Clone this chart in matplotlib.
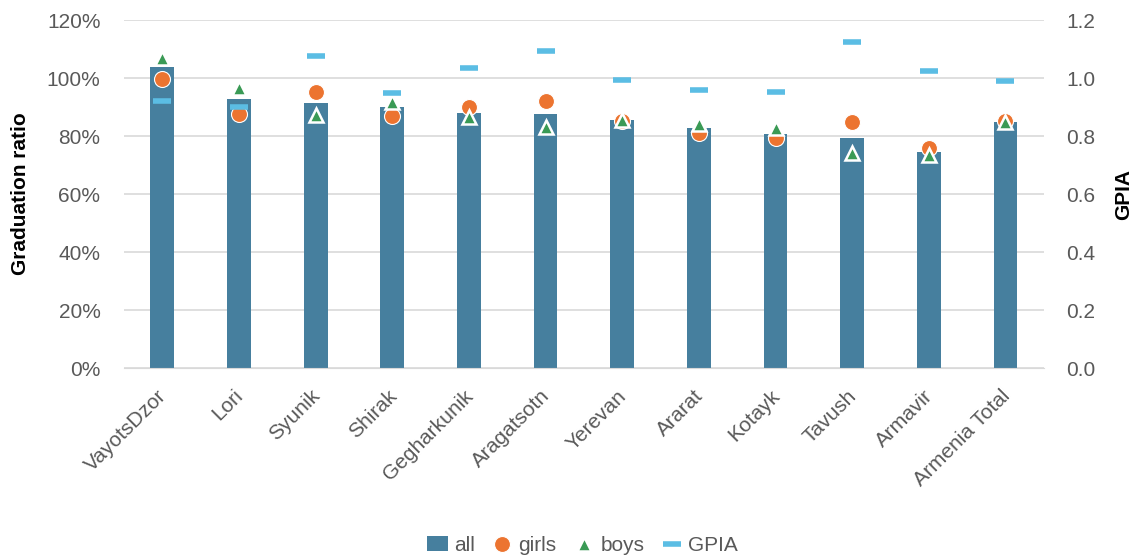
import numpy as np
import matplotlib.pyplot as plt
from matplotlib.ticker import PercentFormatter

plt.rcParams['font.family'] = ['Liberation Sans', 'DejaVu Sans']

regions = ['VayotsDzor', 'Lori', 'Syunik', 'Shirak', 'Gegharkunik', 'Aragatsotn',
           'Yerevan', 'Ararat', 'Kotayk', 'Tavush', 'Armavir', 'Armenia Total']
all_ratio = [103.8, 92.8, 91.4, 90.0, 88.0, 87.6, 85.5, 82.8, 80.7, 79.3, 74.5, 84.8]
girls = [99.7, 87.6, 95.2, 86.9, 90.0, 92.0, 85.2, 81.0, 79.3, 84.8, 75.9, 85.2]
boys = [106.9, 96.5, 87.2, 91.7, 86.6, 83.1, 85.5, 84.1, 82.8, 74.1, 73.4, 84.8]
gpia = [0.92, 0.90, 1.076, 0.948, 1.034, 1.093, 0.993, 0.959, 0.952, 1.124, 1.024, 0.99]

bar_color = '#467F9E'
girls_color = '#EC7430'
boys_color = '#3A9A55'
gpia_color = '#5BBDE4'
grey = '#595959'

fig, ax = plt.subplots(figsize=(11.42, 5.58), dpi=100)
fig.subplots_adjust(left=0.1086, right=0.914, top=0.964, bottom=0.3405)

x = np.arange(len(regions))
h_all = ax.bar(x, all_ratio, width=0.31, color=bar_color, label='all', zorder=2)
h_girls, = ax.plot(x, girls, 'o', color=girls_color, markersize=11.5,
                   markeredgecolor='white', markeredgewidth=0.8, label='girls', zorder=3)
h_boys, = ax.plot(x, boys, '^', color=boys_color, markersize=10,
                  markeredgecolor='white', markeredgewidth=1.8, label='boys', zorder=4)

ax.set_ylim(0, 120)
ax.set_xlim(-0.5, len(regions) - 0.5)
ax.set_yticks(np.arange(0, 121, 20))
ax.yaxis.set_major_formatter(PercentFormatter(decimals=0))
ax.grid(axis='y', color='#D9D9D9', linewidth=1.2, zorder=0)
ax.set_axisbelow(True)
ax.set_ylabel('Graduation ratio', fontsize=15, fontweight='bold', color='black')
ax.yaxis.set_label_coords(-0.102, 0.5)
ax.set_xticks(x)
ax.set_xticklabels(regions, rotation=45, ha='right', va='center_baseline',
                   rotation_mode='anchor', fontsize=15, color=grey)
ax.tick_params(axis='y', labelsize=15, colors=grey, length=0, pad=17)
ax.tick_params(axis='x', length=0, pad=17)
for s in ['top', 'right', 'left']:
    ax.spines[s].set_visible(False)
ax.spines['bottom'].set_color('#D9D9D9')

ax2 = ax.twinx()
h_gpia, = ax2.plot(x, gpia, '_', color=gpia_color, markersize=13,
                   markeredgewidth=4, label='GPIA', zorder=5)
ax2.set_ylim(0, 1.2)
ax2.set_yticks(np.arange(0, 1.21, 0.2))
ax2.set_yticklabels([f'{v:.1f}' for v in np.arange(0, 1.21, 0.2)])
ax2.tick_params(axis='y', labelsize=15, colors=grey, length=0, pad=16)
ax2.set_ylabel('GPIA', fontsize=15, fontweight='bold', color='black')
ax2.yaxis.set_label_coords(1.077, 0.5)
for s in ax2.spines.values():
    s.set_visible(False)

fig.legend([h_all, h_girls, h_boys, h_gpia], ['all', 'girls', 'boys', 'GPIA'],
           loc='lower center', bbox_to_anchor=(0.51, -0.028), ncol=4, frameon=False,
           fontsize=15, handlelength=1.0, handletextpad=0.3, columnspacing=0.8,
           labelcolor=grey)

plt.savefig('out.png', dpi=100)
